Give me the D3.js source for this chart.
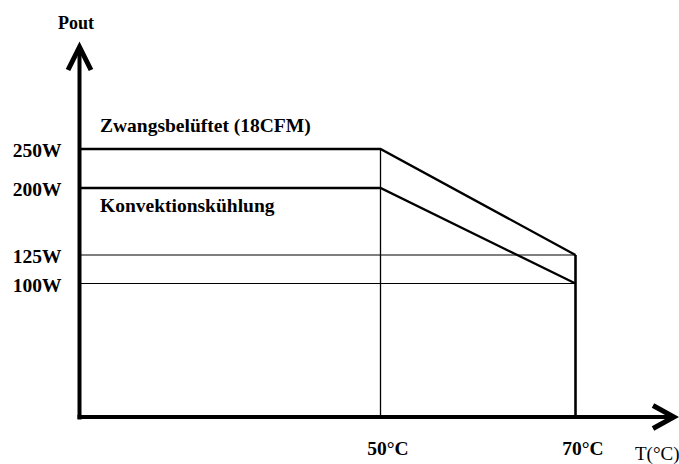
<!DOCTYPE html>
<html>
<head>
<meta charset="utf-8">
<script src="https://cdn.jsdelivr.net/npm/d3@7/dist/d3.min.js"></script>
<style>
  html, body { margin: 0; padding: 0; background: #fff; }
  svg { display: block; }
</style>
</head>
<body>
<svg id="chart" width="679" height="464"></svg>
<script>
// ---- data ----
const tempTicks = [50, 70];
const tempTickLabels = ["50°C", "70°C"];
const powerTicks = [250, 200, 125, 100];
const powerTickLabels = ["250W", "200W", "125W", "100W"];

const forcedTemps = [0, 50, 70];
const forcedPower = [250, 250, 125];
const forcedName = "Zwangsbelüftet (18CFM)";

const convTemps = [0, 50, 70];
const convPower = [200, 200, 100];
const convName = "Konvektionskühlung";

const yTitle = "Pout";
const xTitle = "T(°C)";

// ---- layout ----
const FONT = "Liberation Serif";
const svg = d3.select("#chart");
const left = 79.5, bottom = 417;

// schematic (non-proportional) scales, as in the reference drawing
const x = d3.scaleLinear().domain([0, 50, 70]).range([left, 380.5, 575.5]);
const y = d3.scaleLinear().domain([0, 100, 125, 200, 250]).range([bottom, 283.5, 255, 188, 149]);

const g = svg.append("g");

function boldText(sel, size) {
  return sel.attr("font-family", FONT)
    .attr("font-size", size)
    .attr("font-weight", "bold")
    .attr("fill", "#000");
}

// thin reference lines at the derated levels
g.selectAll("line.ref")
  .data([125, 100])
  .join("line")
  .attr("x1", x(0)).attr("x2", x(70))
  .attr("y1", d => y(d)).attr("y2", d => y(d))
  .attr("stroke", "#000").attr("stroke-width", 1.2);

// vertical at 50°C (thin) from top curve to axis
g.append("line")
  .attr("x1", x(50)).attr("x2", x(50))
  .attr("y1", y(250)).attr("y2", y(0))
  .attr("stroke", "#000").attr("stroke-width", 1.3);

// vertical at 70°C (thick)
g.append("line")
  .attr("x1", x(70)).attr("x2", x(70))
  .attr("y1", y(125)).attr("y2", y(0))
  .attr("stroke", "#000").attr("stroke-width", 2.6);

// derating curves
const line = d3.line().x(d => x(d[0])).y(d => y(d[1]));
[[forcedTemps, forcedPower], [convTemps, convPower]].forEach(([ts, ps]) => {
  g.append("path")
    .attr("d", line(ts.map((t, i) => [t, ps[i]])))
    .attr("fill", "none")
    .attr("stroke", "#000")
    .attr("stroke-width", 2.3)
    .attr("stroke-linejoin", "miter");
});

// axes
g.append("line")
  .attr("x1", left).attr("x2", left)
  .attr("y1", 47).attr("y2", bottom + 2.5)
  .attr("stroke", "#000").attr("stroke-width", 4);
g.append("line")
  .attr("x1", left - 2).attr("x2", 673)
  .attr("y1", bottom).attr("y2", bottom)
  .attr("stroke", "#000").attr("stroke-width", 4);

// arrow heads (open chevrons)
g.append("polyline")
  .attr("points", [[68, 70], [left, 47], [91, 70]].map(p => p.join(",")).join(" "))
  .attr("fill", "none").attr("stroke", "#000").attr("stroke-width", 5)
  .attr("stroke-linejoin", "miter");
g.append("polyline")
  .attr("points", [[653, 405.5], [674, bottom], [653, 428.5]].map(p => p.join(",")).join(" "))
  .attr("fill", "none").attr("stroke", "#000").attr("stroke-width", 5)
  .attr("stroke-linejoin", "miter");

// y tick labels
g.selectAll("text.ytick")
  .data(powerTicks)
  .join("text")
  .attr("class", "ytick")
  .attr("x", 61.5)
  .attr("y", d => y(d) + 8)
  .attr("text-anchor", "end")
  .call(boldText, 19.5)
  .text((d, i) => powerTickLabels[i]);

// x tick labels
g.selectAll("text.xtick")
  .data(tempTicks)
  .join("text")
  .attr("class", "xtick")
  .attr("x", d => x(d) + 7.5)
  .attr("y", 455)
  .attr("text-anchor", "middle")
  .call(boldText, 19.5)
  .text((d, i) => tempTickLabels[i]);

// series labels
g.append("text")
  .attr("x", 100).attr("y", y(250) - 17)
  .call(boldText, 19.5)
  .text(forcedName);
g.append("text")
  .attr("x", 100).attr("y", y(200) + 24)
  .call(boldText, 19.5)
  .text(convName);

// axis titles
g.append("text")
  .attr("x", 58).attr("y", 29)
  .call(boldText, 18)
  .text(yTitle);
g.append("text")
  .attr("x", 635).attr("y", 460)
  .attr("font-family", FONT)
  .attr("font-size", 19)
  .attr("fill", "#000")
  .text(xTitle);
</script>
</body>
</html>
